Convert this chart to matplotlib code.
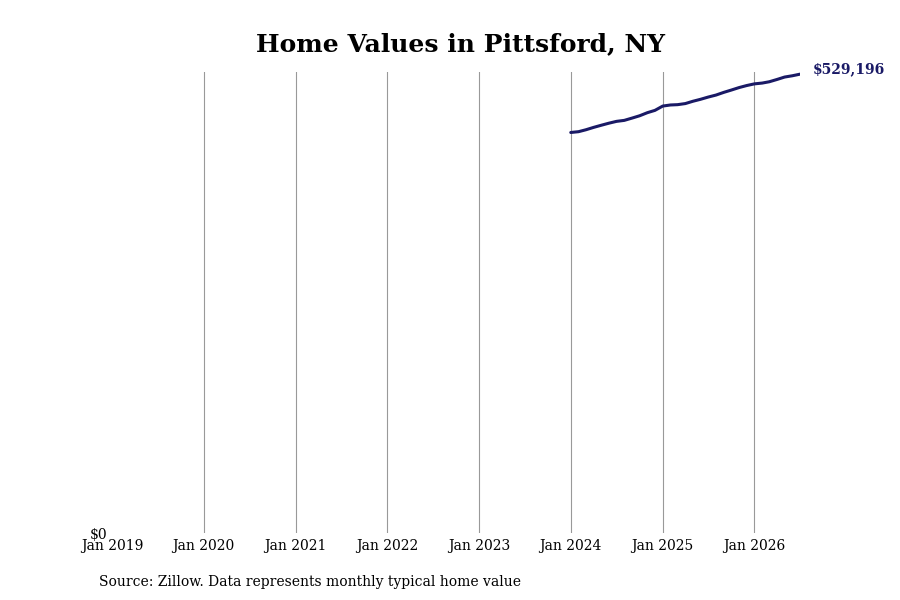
import numpy as np
import pandas as pd
import matplotlib
matplotlib.use("Agg")
import matplotlib.pyplot as plt
import matplotlib.transforms as mtransforms

plt.rcParams['font.family'] = ['DejaVu Serif']

# monthly typical home value
dates = pd.date_range("2024-01-01", "2026-07-01", freq="MS")
values = [461950, 462870, 465060, 467830, 470260, 472680, 474760, 475910,
          478560, 481220, 484800, 487450, 492410, 493680, 494030, 495300,
          497950, 500260, 502800, 505110, 508220, 510880, 513760, 516070,
          518030, 518950, 520450, 523110, 525880, 527380, 529196]
tick_years = list(range(2019, 2027))
line_color = "#1a1a66"

fig = plt.figure(figsize=(9, 6), dpi=100)
ax = fig.add_axes([0.1244, 0.1117, 0.7644, 0.768])

ax.plot(dates, values, color=line_color, lw=2.2, solid_capstyle="round")

ax.set_xlim(pd.Timestamp("2019-01-01"), dates[-1])
ax.set_ylim(0, 531500)

ticks = [pd.Timestamp(f"{y}-01-01") for y in tick_years]
ax.set_xticks(ticks)
ax.set_xticklabels([f"Jan {y}" for y in tick_years], fontsize=10)
ax.set_yticks([0])
ax.set_yticklabels(["$0"], fontsize=10)
ax.tick_params(axis="both", length=0)
ax.tick_params(axis="x", pad=4)
ax.tick_params(axis="y", pad=3.5)
# the $0 label sits right on the baseline, a bit lower than centre
shift = mtransforms.ScaledTranslation(0, -2 / 100, fig.dpi_scale_trans)
for lab in ax.get_yticklabels():
    lab.set_verticalalignment("center")
    lab.set_transform(lab.get_transform() + shift)

ax.grid(axis="x", color="#999999", lw=0.8)
ax.xaxis.get_gridlines()[0].set_visible(False)
for s in ax.spines.values():
    s.set_visible(False)

ax.annotate(f"${values[-1]:,}", xy=(dates[-1], values[-1]), xytext=(9.5, 3.5),
            textcoords="offset points", fontsize=10, fontweight="bold",
            color=line_color, va="center", ha="left")

fig.text(0.512, 0.927, "Home Values in Pittsford, NY", fontsize=18,
         fontweight="bold", ha="center", va="center")
fig.text(0.11, 0.03, "Source: Zillow. Data represents monthly typical home value",
         fontsize=10, ha="left", va="center")

fig.savefig("out.png", dpi=100)
